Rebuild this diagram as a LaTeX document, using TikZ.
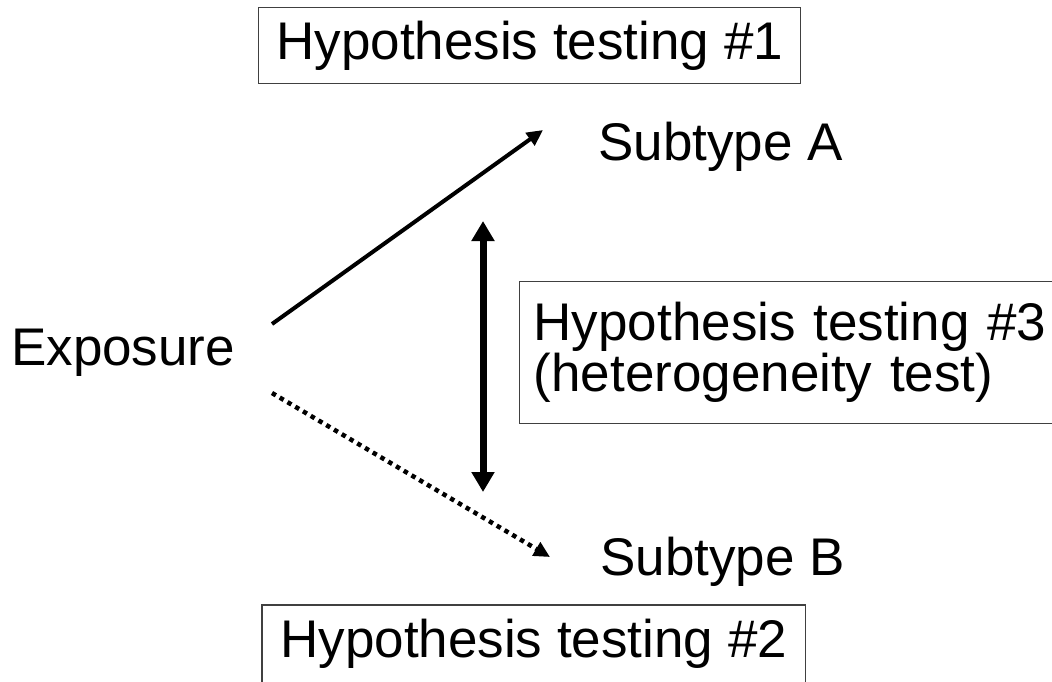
\documentclass[tikz,border=0pt]{standalone}
\usepackage{fontspec}
\setmainfont{Liberation Sans}
\usetikzlibrary{arrows.meta}

\begin{document}
\begin{tikzpicture}[x=1pt, y=-1pt,
	lbl/.style={font=\fontsize{53}{51}\selectfont, inner sep=0pt, anchor=base west},
	hypbox/.style={draw=black!75, line width=1.4pt, font=\fontsize{53}{51}\selectfont, inner sep=0pt, anchor=north west}]
	\useasboundingbox (0,0) rectangle (1052,681);
	\clip (0,0) rectangle (1052,681);
	%les noeuds
	\node[lbl] (exposure) at (11,365) {Exposure};
	\node[lbl] (subA) at (598,160) {Subtype A};
	\node[lbl] (subB) at (600,575) {Subtype B};
	\node[hypbox, minimum width=542pt, minimum height=76pt] (hyp1) at (258,7) {Hypothesis testing \#1};
	\node[hypbox, draw=none, minimum width=542pt, minimum height=76pt] (hyp2) at (262,605) {Hypothesis testing \#2};
	\draw[draw=black!75, line width=1.4pt] (hyp2.north west) rectangle ([yshift=-30pt]hyp2.south east);
	\node[hypbox, text width=520pt, inner xsep=14pt, minimum height=142pt, align=left] (hyp3) at (519,281) {Hypothesis testing \#3\\(heterogeneity test)};
	%les extremites des fleches
	\coordinate (aStart) at (272,324);
	\coordinate (aEnd) at (543,130);
	\coordinate (bStart) at (272,393);
	\coordinate (bEnd) at (550,557);
	\coordinate (hetTop) at (483,221);
	\coordinate (hetBot) at (483,492);
	%les fleches
	\draw[line width=4pt, -{Triangle[length=16pt,width=15pt]}] (aStart) -- (aEnd);
	\draw[line width=4.5pt, dash pattern=on 4.5pt off 4.5pt, -{Triangle[length=16pt,width=15pt]}] (bStart) -- (bEnd);
	\draw[line width=7pt, {Triangle[length=20pt,width=22pt]}-{Triangle[length=20pt,width=22pt]}] (hetTop) -- (hetBot);
\end{tikzpicture}
\end{document}
